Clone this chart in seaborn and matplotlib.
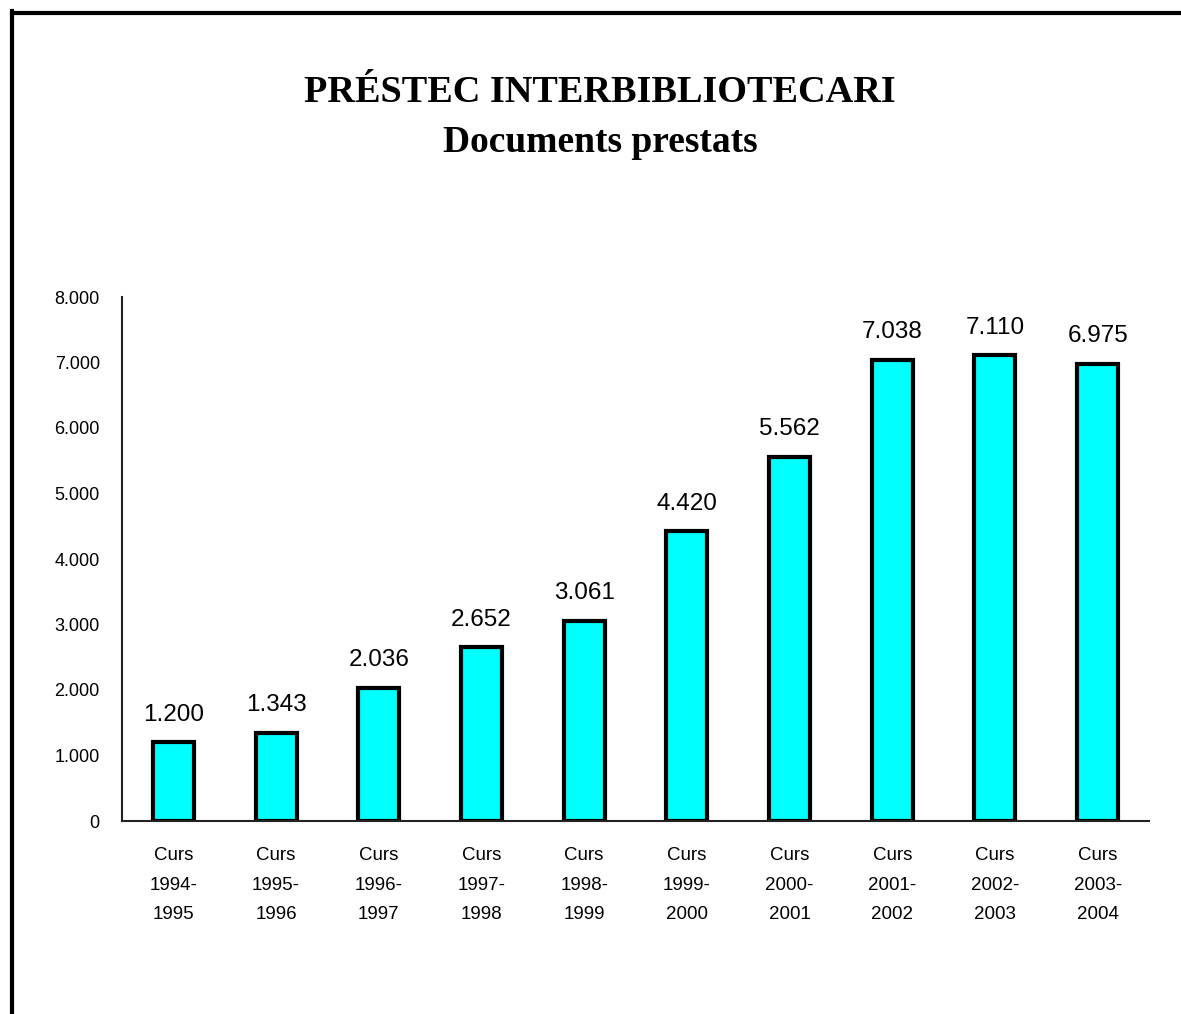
import matplotlib
matplotlib.use("Agg")
import matplotlib.pyplot as plt
import seaborn as sns
import pandas as pd
from matplotlib.lines import Line2D

sns.set_theme(style="white")
plt.rcParams["font.family"] = ["Liberation Sans", "DejaVu Sans"]

# data
cursos = ["1994-\n1995", "1995-\n1996", "1996-\n1997", "1997-\n1998", "1998-\n1999",
          "1999-\n2000", "2000-\n2001", "2001-\n2002", "2002-\n2003", "2003-\n2004"]
documents = [1200, 1343, 2036, 2652, 3061, 4420, 5562, 7038, 7110, 6975]
yticks = [0, 1000, 2000, 3000, 4000, 5000, 6000, 7000, 8000]


def fmt_miles(v):
    return f"{int(v):,}".replace(",", ".")


df = pd.DataFrame({"curs": ["Curs\n" + c for c in cursos], "documents": documents})

W, H = 1181, 1014
fig = plt.figure(figsize=(W / 100, H / 100), dpi=100)
ax = fig.add_axes([122 / W, 1 - 821 / H, (1149 - 122) / W, (821 - 297) / H])

sns.barplot(data=df, x="curs", y="documents", ax=ax, color="#00FFFF",
            saturation=1, width=0.4, edgecolor="black", linewidth=3)

ax.bar_label(ax.containers[0], labels=[fmt_miles(v) for v in documents],
             padding=12, fontsize=17.5, color="black")

ax.set_ylim(0, 8000)
ax.set_yticks(yticks)
ax.set_yticklabels([fmt_miles(v) for v in yticks])
ax.set_xlabel("")
ax.set_ylabel("")
ax.tick_params(axis="both", length=0, labelsize=13, colors="black")
ax.tick_params(axis="y", pad=16)
ax.tick_params(axis="x", pad=19, labelsize=13.5)
for lbl in ax.get_xticklabels():
    lbl.set_linespacing(1.95)
    lbl.set_verticalalignment("top")

sns.despine(ax=ax)
for side in ["left", "bottom"]:
    ax.spines[side].set_color("#222222")
    ax.spines[side].set_linewidth(1.5)
ax.grid(False)

fig.text(600 / W, 1 - 92 / H, "PRÉSTEC INTERBIBLIOTECARI", ha="center", va="center",
         fontsize=27.5, fontweight="bold", family="Liberation Serif", color="black")
fig.text(600 / W, 1 - 143 / H, "Documents prestats", ha="center", va="center",
         fontsize=27, fontweight="bold", family="Liberation Serif", color="black")

# frame visible only on the left and top edges
fig.add_artist(Line2D([12 / W, 12 / W], [0, 1 - 11 / H], color="black", lw=3,
                      transform=fig.transFigure, solid_capstyle="projecting"))
fig.add_artist(Line2D([12 / W, 1], [1 - 13 / H, 1 - 13 / H], color="black", lw=3,
                      transform=fig.transFigure, solid_capstyle="projecting"))

fig.savefig("out.png", dpi=100, facecolor="white")
